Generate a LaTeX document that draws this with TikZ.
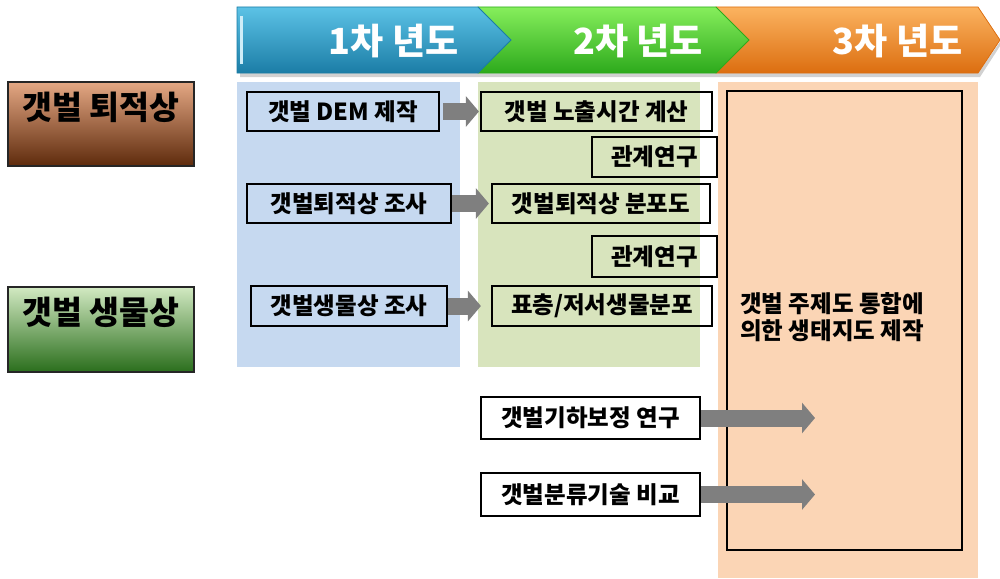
\documentclass[tikz,border=0pt]{standalone}
\usepackage{fontspec}
\newfontfamily\kr{Noto Sans CJK KR}
\usetikzlibrary{arrows.meta}
\definecolor{bluepanel}{HTML}{C6D9F0}
\definecolor{greenpanel}{HTML}{D8E4BD}
\definecolor{orangepanel}{HTML}{FBD5B5}
\definecolor{arrowgray}{HTML}{7F7F7F}
\definecolor{bnbluet}{HTML}{5CC2E6}
\definecolor{bnbluem}{HTML}{2BA2CF}
\definecolor{bnblueb}{HTML}{1B7DA6}
\definecolor{bngreent}{HTML}{86EE5C}
\definecolor{bngreenm}{HTML}{4BD831}
\definecolor{bngreenb}{HTML}{2DAA1C}
\definecolor{bnoranget}{HTML}{FBB360}
\definecolor{bnorangem}{HTML}{F28C2A}
\definecolor{bnorangeb}{HTML}{DC6E10}
\definecolor{brownt}{HTML}{E4A884}
\definecolor{brownm}{HTML}{BC6A38}
\definecolor{brownb}{HTML}{5E2A0C}
\definecolor{leaft}{HTML}{D2E9C2}
\definecolor{leafm}{HTML}{7DB75E}
\definecolor{leafb}{HTML}{2A6E1C}
\tikzset{
  taskbox/.style={draw=black, line width=2.2pt, inner sep=0pt,
    font=\kr\bfseries\fontsize{23.5}{27}\selectfont},
  bigarrow/.style={draw=arrowgray, line width=17pt, -{Triangle[length=13pt,width=30pt]}},
  yearlabel/.style={font=\kr\bfseries\fontsize{36}{40}\selectfont, text=white, inner sep=0pt},
  catbox/.style={draw=black!85, line width=2pt, minimum width=186pt, inner sep=0pt},
  catlabel/.style={font=\kr\bfseries\fontsize{32.5}{36}\selectfont, text=black, inner sep=0pt},
  banseg/.style={line width=0.8pt},
}
\begin{document}
\begin{tikzpicture}[x=1pt,y=-1pt]
\useasboundingbox (0,0) rectangle (1000,578);
% panels
\fill[bluepanel] (237,82) rectangle (460,367);
\fill[greenpanel] (478,82) rectangle (700,367);
\fill[orangepanel] (718,82) rectangle (978,578);
% banner shadow
\fill[black!18] (240,73) -- (978,73) -- (1000,42) -- (1000,46) -- (980,77) -- (240,77) -- cycle;
% banner segments
\shade[top color=bnoranget, middle color=bnorangem, bottom color=bnorangeb, draw=bnorangeb, banseg]
  (716,7) -- (978,7) -- (1000,40) -- (978,73) -- (716,73) -- cycle;
\shade[top color=bngreent, middle color=bngreenm, bottom color=bngreenb, draw=bngreenb, banseg]
  (478,7) -- (716,7) -- (749,40) -- (716,73) -- (478,73) -- cycle;
\shade[top color=bnbluet, middle color=bnbluem, bottom color=bnblueb, draw=bnblueb, banseg]
  (237,7) -- (478,7) -- (511,40) -- (478,73) -- (237,73) -- cycle;
\fill[white!70!bnbluet] (240,16) rectangle (242.5,64);
% year labels
\node[yearlabel] (y1) at (393.5,41) {1차 년도};
\node[yearlabel] (y2) at (638,41) {2차 년도};
\node[yearlabel] (y3) at (897.5,41) {3차 년도};
% category boxes
\node[catbox, minimum height=84pt, top color=brownt, middle color=brownm, bottom color=brownb] (sedcat) at (101,124) {};
\node[catlabel] (sedlab) at (101,107) {갯벌 퇴적상};
\node[catbox, minimum height=85pt, top color=leaft, middle color=leafm, bottom color=leafb] (biocat) at (101,329.5) {};
\node[catlabel] (biolab) at (101,312) {갯벌 생물상};
% task boxes
\node[taskbox, minimum width=192pt, minimum height=39pt] (dem) at (343,111.5) {갯벌 DEM 제작};
\node[taskbox, minimum width=231pt, minimum height=39pt] (expo) at (596.5,111.5) {갯벌 노출시간 계산};
\node[taskbox, minimum width=125pt, minimum height=40pt] (rel1) at (654.5,157) {관계연구};
\node[taskbox, minimum width=204pt, minimum height=39pt] (sedi) at (349,203.5) {갯벌퇴적상 조사};
\node[taskbox, minimum width=218pt, minimum height=39pt] (sedd) at (601,203.5) {갯벌퇴적상 분포도};
\node[taskbox, minimum width=125pt, minimum height=41pt] (rel2) at (654.5,256.5) {관계연구};
\node[taskbox, minimum width=196pt, minimum height=40pt] (bios) at (349,306) {갯벌생물상 조사};
\node[taskbox, minimum width=220pt, minimum height=40pt] (biod) at (602,306) {표층/저서생물분포};
\node[taskbox, minimum width=219pt, minimum height=42pt] (geo) at (590.5,418) {갯벌기하보정 연구};
\node[taskbox, minimum width=219pt, minimum height=43pt] (cls) at (590.5,494.5) {갯벌분류기술 비교};
% big box
\node[draw=black, line width=2pt, minimum width=235pt, minimum height=459pt, inner sep=0pt] (eco) at (844.5,320.5) {};
\node[anchor=north west, align=left, inner sep=0pt, font=\kr\bfseries\fontsize{23.5}{27}\selectfont] (ecotxt) at (740,292) {갯벌 주제도 통합에\\의한 생태지도 제작};
% arrows
\coordinate (geoend) at (815,418);
\coordinate (clsend) at (815,494.5);
\draw[bigarrow] ([xshift=3pt]dem.east) -- ([xshift=-1pt]expo.west);
\draw[bigarrow] (sedi.east) -- ([xshift=-2pt]sedd.west);
\draw[bigarrow] (bios.east) -- ([xshift=-10pt]biod.west);
\draw[bigarrow] (geo.east) -- (geoend);
\draw[bigarrow] (cls.east) -- (clsend);
\end{tikzpicture}
\end{document}
